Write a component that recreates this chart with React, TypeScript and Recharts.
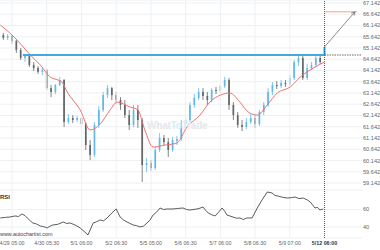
import React from "react";
import {
  ComposedChart,
  LineChart,
  Line,
  Bar,
  XAxis,
  YAxis,
  CartesianGrid,
  ReferenceLine,
} from "recharts";

// time axis: 1 unit = 1/8 trading day, 0 = 4/29 05:00
const X_DOMAIN: [number, number] = [-2.77, 80.63];

const dayTicks = [0, 8, 16, 24, 32, 40, 48, 56, 64, 72];
const dayLabels = [
  "4/29 05:00",
  "4/30 05:30",
  "5/1 06:00",
  "5/2 06:30",
  "5/5 05:00",
  "5/6 06:30",
  "5/7 06:00",
  "5/8 06:30",
  "5/9 07:00",
  "5/12 06:00",
];

const priceTicks = [
  59.142, 59.642, 60.142, 60.642, 61.142, 61.642, 62.142, 62.642, 63.142,
  63.642, 64.142, 64.642, 65.142, 65.642, 66.142, 66.642, 67.142,
];
const rsiTicks = [40, 60];

const candleTimes = [
  -2, -1, 0, 1, 2, 3, 4, 5, 6, 7, 8, 9, 10, 11, 12, 13, 14, 15, 16, 17, 18, 19,
  20, 21, 22, 23, 24, 25, 26, 27, 28, 29, 30, 31, 32, 33, 34, 35, 36, 37, 38,
  39, 40, 41, 42, 43, 44, 45, 46, 47, 48, 49, 50, 51, 52, 53, 54, 55, 56, 57,
  58, 59, 60, 61, 62, 63, 64, 65, 66, 67, 68, 69, 70, 71, 72,
];
const opens = [
  65.72, 65.59, 65.68, 65.45, 65.05, 64.7, 64.79, 64.39, 64.25, 64.08, 64.16,
  63.36, 63.19, 63.5, 63.72, 61.85, 62.03, 61.94, 62.03, 61.76, 60.83, 60.39,
  61.72, 62.39, 63.05, 63.36, 63.05, 62.83, 62.61, 62.16, 61.72, 62.39, 61.94,
  59.94, 60.03, 59.81, 60.61, 61.14, 60.96, 60.61, 61.01, 61.1, 61.76, 61.94,
  62.61, 62.92, 63.19, 63.01, 62.83, 63.28, 63.23, 63.45, 63.72, 62.61, 62.16,
  61.72, 61.63, 61.85, 62.03, 61.76, 62.3, 62.61, 63.19, 63.5, 63.45, 63.59,
  63.54, 63.81, 64.52, 64.7, 63.81, 64.25, 64.39, 64.7, 64.79,
];
const closes = [
  65.59, 65.68, 65.45, 65.05, 64.7, 64.79, 64.39, 64.25, 64.08, 64.16, 63.36,
  63.19, 63.5, 63.72, 61.85, 62.03, 61.94, 62.03, 61.76, 60.83, 60.39, 61.72,
  62.39, 63.05, 63.36, 63.05, 62.83, 62.61, 62.16, 61.72, 62.39, 61.94, 59.94,
  60.03, 59.81, 60.61, 61.14, 60.96, 60.61, 61.05, 61.1, 61.76, 61.94, 62.61,
  62.92, 63.19, 63.01, 62.83, 63.28, 63.23, 63.45, 63.72, 62.61, 62.16, 61.72,
  61.63, 61.85, 62.03, 61.76, 62.3, 62.61, 63.19, 63.5, 63.45, 63.59, 63.54,
  63.81, 64.52, 64.7, 63.81, 64.25, 64.39, 64.7, 64.52, 65.19,
];
const highs = [
  65.81, 65.76, 65.72, 65.5, 65.14, 64.88, 64.83, 64.52, 64.34, 64.25, 64.21,
  63.5, 63.54, 63.85, 63.76, 62.21, 62.16, 62.12, 62.08, 61.85, 61.05, 61.85,
  62.56, 63.19, 63.5, 63.41, 63.19, 62.96, 62.83, 62.39, 62.61, 62.61, 62.03,
  60.25, 60.16, 60.74, 61.36, 61.28, 61.14, 61.19, 61.23, 61.94, 62.08, 62.74,
  63.1, 63.36, 63.36, 63.19, 63.36, 63.41, 63.54, 63.85, 63.81, 62.74, 62.3,
  61.94, 62.03, 62.21, 62.16, 62.39, 62.74, 63.36, 63.63, 63.68, 63.72, 63.72,
  63.94, 64.61, 64.83, 64.79, 64.43, 64.52, 64.79, 64.79, 65.19,
];
const lows = [
  65.5, 65.5, 65.32, 64.92, 64.61, 64.52, 64.3, 64.12, 63.99, 63.94, 63.28,
  62.96, 63.1, 63.45, 61.63, 61.76, 61.81, 61.85, 61.59, 60.61, 60.16, 60.3,
  61.59, 62.3, 62.92, 62.83, 62.65, 62.39, 62.03, 61.5, 61.63, 61.59, 59.19,
  59.63, 59.68, 59.72, 60.52, 60.79, 60.3, 60.52, 60.83, 61.01, 61.63, 61.85,
  62.48, 62.83, 62.83, 62.61, 62.74, 63.1, 63.14, 63.36, 62.39, 61.94, 61.59,
  61.45, 61.54, 61.76, 61.59, 61.68, 62.16, 62.52, 63.05, 63.32, 63.36, 63.41,
  63.45, 63.72, 64.34, 63.72, 63.72, 64.16, 64.3, 64.43, 64.79,
];

const maTimes = [
  -2.7, -0.5, 1.8, 4.2, 6.5, 8.8, 10.6, 11.5, 12.7, 15.7, 18.0, 20.3, 22.6,
  24.2, 27.2, 29.0, 30.6, 32.5, 35.3, 38.0, 40.3, 43.3, 45.6, 48.0, 50.2, 52.5,
  54.4, 56.5, 58.8, 61.1, 64.1, 66.4, 69.4, 72.0,
];
const maValues = [
  66.16, 65.81, 65.36, 64.83, 64.39, 63.85, 63.72, 63.63, 63.19, 62.39, 61.5,
  61.76, 62.39, 62.74, 62.52, 62.39, 61.5, 60.74, 60.83, 60.92, 61.63, 62.16,
  62.74, 63.05, 63.14, 62.74, 62.3, 62.16, 62.61, 63.14, 63.41, 63.85, 64.25,
  64.52,
];

const rsiTimes = [
  -2.7, -1.5, -0.5, 0.7, 1.5, 2.3, 3.0, 3.5, 4.2, 4.8, 5.6, 6.5, 7.2, 8.1, 8.8,
  9.4, 10.5, 11.8, 12.6, 13.4, 14.5, 15.7, 16.6, 17.5, 18.7, 19.5, 20.3, 21.1,
  21.9, 23.0, 24.0, 24.9, 25.7, 26.5, 27.2, 27.9, 28.7, 29.5, 30.3, 31.1, 31.8,
  32.5, 33.3, 34.1, 34.9, 35.7, 37.1, 38.2, 39.4, 40.2, 41.0, 42.6, 43.3, 44.0,
  44.6, 45.2, 46.0, 46.8, 47.6, 48.4, 49.0, 49.5, 50.9, 51.7, 52.5, 53.3, 54.1,
  55.3, 56.5, 57.6, 58.8, 59.9, 60.6, 61.3, 62.3, 63.4, 64.3, 65.2, 66.1, 67.1,
  68.0, 68.7, 69.3, 69.8, 70.4, 70.9, 71.7,
];
const rsiValues = [
  50.3, 51.0, 51.4, 52.6, 52.0, 54.9, 53.0, 50.3, 47.0, 44.6, 43.5, 41.1, 40.5,
  38.9, 41.0, 42.3, 43.0, 45.7, 44.0, 44.6, 42.3, 38.9, 35.0, 30.9, 44.6, 46.0,
  48.0, 47.0, 50.3, 56.0, 60.6, 51.4, 48.0, 45.7, 44.0, 42.3, 41.5, 40.0, 41.0,
  44.6, 48.0, 53.7, 57.0, 61.7, 60.0, 60.6, 60.6, 61.2, 61.7, 60.0, 59.4, 60.6,
  61.5, 62.9, 59.0, 56.0, 54.0, 52.6, 57.0, 61.7, 58.0, 53.7, 51.4, 50.0, 50.3,
  48.5, 50.3, 50.3, 61.7, 70.9, 80.0, 78.9, 76.0, 75.4, 74.0, 73.1, 73.5, 74.3,
  72.5, 73.1, 71.0, 68.6, 65.0, 61.7, 62.5, 59.4, 60.6,
];

// breakout level and forecast
const levelPrice = 64.83;
const levelStart = 2.5;
const nowTime = 72;
const breakoutPrice = 65.19;
const targetPrice = 66.75;
const arrowEnd = 79;
const targetEnd = 79.5;

const UP = "#62b9e8";
const DOWN = "#666";
const GRID = "#eef0f2";
const FONT = "'Liberation Sans', Arial, sans-serif";

const candles = candleTimes.map((t, i) => ({
  t,
  o: opens[i],
  h: highs[i],
  l: lows[i],
  c: closes[i],
  range: [lows[i], highs[i]],
}));
const ma = maTimes.map((t, i) => ({ t, v: maValues[i] }));
const rsi = rsiTimes.map((t, i) => ({ t, v: rsiValues[i] }));
const levelLine = [
  { t: levelStart, v: levelPrice },
  { t: nowTime, v: levelPrice },
];
const levelExt = [
  { t: nowTime, v: levelPrice },
  { t: X_DOMAIN[1], v: levelPrice },
];
const arrowLine = [
  { t: nowTime, v: breakoutPrice },
  { t: arrowEnd, v: targetPrice },
];
const targetLine = [
  { t: nowTime, v: targetPrice },
  { t: targetEnd, v: targetPrice },
];

const Candle = (props: any) => {
  const { x, y, width, height, payload } = props;
  if (!payload || !isFinite(x) || !isFinite(y)) return <g />;
  const { o, h, l, c } = payload;
  const top = Math.min(y, y + height);
  const bottom = Math.max(y, y + height);
  const span = h - l || 1;
  const yOf = (v: number) => top + ((h - v) / span) * (bottom - top);
  const up = c >= o;
  const last = payload.t === nowTime;
  const color = last ? "#3aa3e0" : up ? UP : DOWN;
  const cx = x + width / 2;
  const bTop = yOf(Math.max(o, c));
  const bBot = yOf(Math.min(o, c));
  const bw = last ? 2 : 1.7;
  return (
    <g>
      <line x1={cx} x2={cx} y1={top} y2={bottom} stroke={color} strokeWidth={0.8} />
      <rect
        x={cx - bw / 2}
        y={bTop}
        width={bw}
        height={Math.max(bBot - bTop, 0.8)}
        fill={color}
      />
    </g>
  );
};

const ArrowHead = (props: any) => {
  const { cx, cy, index, points } = props;
  if (index !== 1 || !points || !points[0]) return <g key={`ah${index}`} />;
  const ang = Math.atan2(cy - points[0].y, cx - points[0].x);
  const len = 4;
  const a1 = ang + Math.PI - 0.5;
  const a2 = ang + Math.PI + 0.5;
  return (
    <path
      key="ah"
      d={`M${cx + len * Math.cos(a1)},${cy + len * Math.sin(a1)} L${cx},${cy} L${
        cx + len * Math.cos(a2)
      },${cy + len * Math.sin(a2)}`}
      stroke="#707070"
      strokeWidth={0.8}
      fill="none"
    />
  );
};

const RightTick = (digits: number) => (props: any) => {
  const { x, y, payload } = props;
  return (
    <text
      x={x}
      y={y}
      dy={2}
      fontSize={5.6}
      fill="#666"
      textAnchor="start"
      fontFamily={FONT}
    >
      {Number(payload.value).toFixed(digits)}
    </text>
  );
};

const DayTick = (props: any) => {
  const { x, y, payload } = props;
  const i = dayTicks.indexOf(payload.value);
  const last = i === dayTicks.length - 1;
  return (
    <text
      x={x}
      y={y}
      dy={7}
      fontSize={5.3}
      fill={last ? "#333" : "#666"}
      fontWeight={last ? "bold" : "normal"}
      textAnchor="middle"
      fontFamily={FONT}
    >
      {dayLabels[i]}
    </text>
  );
};

export default function App() {
  return (
    <div
      style={{
        position: "absolute",
        left: 0,
        top: 0,
        width: 380,
        height: 250,
        background: "#fff",
        overflow: "hidden",
        fontFamily: FONT,
      }}
    >
      <div style={{ position: "absolute", left: 0, top: 0 }}>
        <ComposedChart
          width={380}
          height={190}
          data={candles}
          margin={{ top: 0, right: 0, bottom: 0, left: 0 }}
        >
          <CartesianGrid vertical={false} stroke={GRID} strokeWidth={1} />
          <XAxis
            type="number"
            dataKey="t"
            domain={X_DOMAIN}
            allowDataOverflow
            hide
          />
          <YAxis
            orientation="right"
            width={18}
            domain={[58.831, 67.275]}
            allowDataOverflow
            ticks={priceTicks}
            interval={0}
            tickLine={false}
            axisLine={false}
            tickSize={0}
            tickMargin={1}
            tick={RightTick(3)}
          />
          {dayTicks.slice(0, -1).map((d) => (
            <ReferenceLine key={d} x={d} stroke={GRID} strokeWidth={1} />
          ))}
          <ReferenceLine
            x={nowTime}
            stroke="#3f5d6a"
            strokeDasharray="1 1"
            strokeWidth={1}
          />
          <Line
            data={ma}
            dataKey="v"
            type="monotone"
            stroke="#f07272"
            strokeWidth={1}
            dot={false}
            isAnimationActive={false}
          />
          <Bar
            dataKey="range"
            barSize={3}
            shape={<Candle />}
            isAnimationActive={false}
          />
          <Line
            data={levelLine}
            dataKey="v"
            type="linear"
            stroke="#45a8e0"
            strokeWidth={1.8}
            dot={false}
            isAnimationActive={false}
          />
          <Line
            data={levelExt}
            dataKey="v"
            type="linear"
            stroke="#555"
            strokeWidth={0.9}
            strokeDasharray="1.5 1"
            dot={false}
            isAnimationActive={false}
          />
          <Line
            data={targetLine}
            dataKey="v"
            type="linear"
            stroke="#f4a27f"
            strokeWidth={1}
            dot={false}
            isAnimationActive={false}
          />
          <Line
            data={arrowLine}
            dataKey="v"
            type="linear"
            stroke="#707070"
            strokeWidth={0.8}
            dot={<ArrowHead />}
            isAnimationActive={false}
          />
        </ComposedChart>
      </div>

      <div
        style={{
          position: "absolute",
          left: 147,
          top: 120,
          fontSize: 10,
          fontWeight: "bold",
          color: "#e6e8ec",
          letterSpacing: -0.2,
          whiteSpace: "nowrap",
        }}
      >
        What<span style={{ color: "#d8ebf7" }}>To</span>Trade
      </div>

      <div style={{ position: "absolute", left: 0, top: 190 }}>
        <LineChart
          width={380}
          height={60}
          data={rsi}
          margin={{ top: 0, right: 0, bottom: 0, left: 0 }}
        >
          <CartesianGrid vertical={false} stroke={GRID} strokeWidth={1} />
          <XAxis
            type="number"
            dataKey="t"
            domain={X_DOMAIN}
            allowDataOverflow
            ticks={dayTicks}
            interval={0}
            height={12}
            tickLine={false}
            axisLine={false}
            tickSize={0}
            tickMargin={0}
            tick={<DayTick />}
          />
          <YAxis
            orientation="right"
            width={18}
            domain={[27.4, 82.3]}
            allowDataOverflow
            ticks={rsiTicks}
            interval={0}
            tickLine={false}
            axisLine={false}
            tickSize={0}
            tickMargin={1}
            tick={RightTick(0)}
          />
          {dayTicks.slice(0, -1).map((d) => (
            <ReferenceLine key={d} x={d} stroke={GRID} strokeWidth={1} />
          ))}
          <ReferenceLine
            x={nowTime}
            stroke="#3f5d6a"
            strokeDasharray="1 1"
            strokeWidth={1}
          />
          <Line
            dataKey="v"
            type="linear"
            stroke="#4a4a4a"
            strokeWidth={0.9}
            dot={false}
            isAnimationActive={false}
          />
        </LineChart>
      </div>

      <div
        style={{
          position: "absolute",
          left: 0,
          top: 194,
          fontSize: 6,
          fontWeight: "bold",
          color: "#333",
        }}
      >
        RSI
      </div>
      <div
        style={{
          position: "absolute",
          left: 0,
          top: 231,
          fontSize: 5.4,
          color: "#444",
          whiteSpace: "nowrap",
        }}
      >
        www.autochartist.com
      </div>
    </div>
  );
}
